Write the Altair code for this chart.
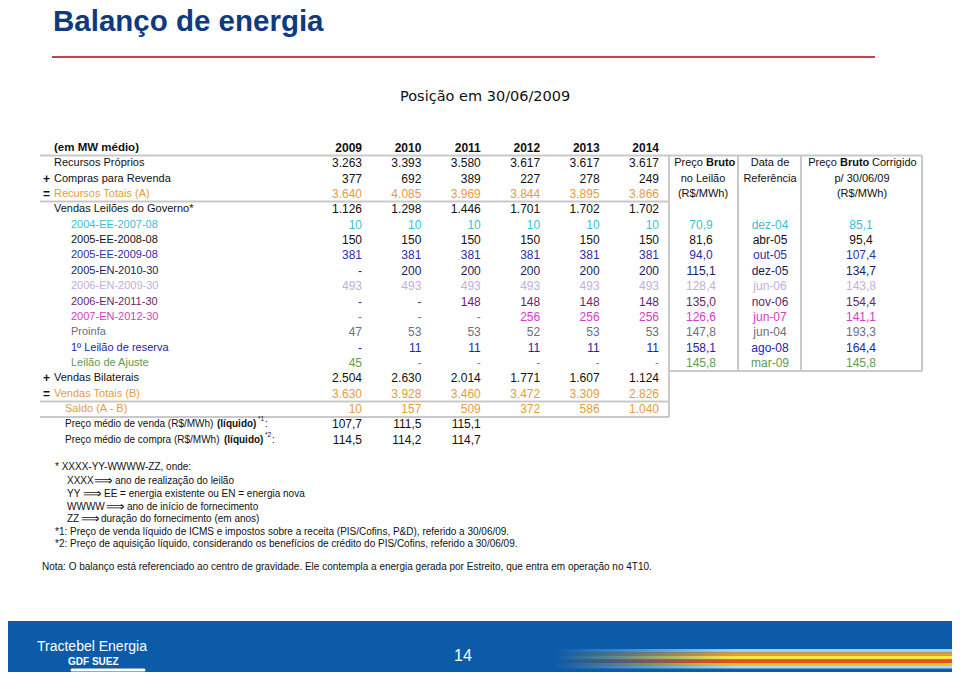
import altair as alt
import pandas as pd

# ---------------- data ----------------
title = "Balanço de energia"
subtitle = "Posição em 30/06/2009"
unit_label = "(em MW médio)"
years = ["2009", "2010", "2011", "2012", "2013", "2014"]

row_labels = [
    "Recursos Próprios", "Compras para Revenda", "Recursos Totais (A)",
    "Vendas Leilões do Governo*", "2004-EE-2007-08", "2005-EE-2008-08",
    "2005-EE-2009-08", "2005-EN-2010-30", "2006-EN-2009-30", "2006-EN-2011-30",
    "2007-EN-2012-30", "Proinfa", "1º Leilão de reserva", "Leilão de Ajuste",
    "Vendas Bilaterais", "Vendas Totais (B)", "Saldo (A - B)",
]
recursos_proprios = [3263, 3393, 3580, 3617, 3617, 3617]
compras_revenda = [377, 692, 389, 227, 278, 249]
recursos_totais = [3640, 4085, 3969, 3844, 3895, 3866]
vendas_leiloes = [1126, 1298, 1446, 1701, 1702, 1702]
l_2004_EE_2007_08 = [10, 10, 10, 10, 10, 10]
l_2005_EE_2008_08 = [150, 150, 150, 150, 150, 150]
l_2005_EE_2009_08 = [381, 381, 381, 381, 381, 381]
l_2005_EN_2010_30 = [None, 200, 200, 200, 200, 200]
l_2006_EN_2009_30 = [493, 493, 493, 493, 493, 493]
l_2006_EN_2011_30 = [None, None, 148, 148, 148, 148]
l_2007_EN_2012_30 = [None, None, None, 256, 256, 256]
proinfa = [47, 53, 53, 52, 53, 53]
leilao_reserva = [None, 11, 11, 11, 11, 11]
leilao_ajuste = [45, None, None, None, None, None]
vendas_bilaterais = [2504, 2630, 2014, 1771, 1607, 1124]
vendas_totais = [3630, 3928, 3460, 3472, 3309, 2826]
saldo = [10, 157, 509, 372, 586, 1040]

preco_venda_label = "Preço médio de venda (R$/MWh)"
preco_compra_label = "Preço médio de compra (R$/MWh)"
preco_venda = [107.7, 111.5, 115.1]
preco_compra = [114.5, 114.2, 114.7]

preco_bruto = [70.9, 81.6, 94.0, 115.1, 128.4, 135.0, 126.6, 147.8, 158.1, 145.8]
data_referencia = ["dez-04", "abr-05", "out-05", "dez-05", "jun-06", "nov-06",
                   "jun-07", "jun-04", "ago-08", "mar-09"]
preco_corrigido = [85.1, 95.4, 107.4, 134.7, 143.8, 154.4, 141.1, 193.3, 164.4, 145.8]

footnotes = [
    "*1: Preço de venda líquido de ICMS e impostos sobre a receita (PIS/Cofins, P&D), referido a 30/06/09.",
    "*2: Preço de aquisição líquido, considerando os benefícios de crédito do PIS/Cofins, referido a 30/06/09.",
]
legend_head = "* XXXX-YY-WWWW-ZZ, onde:"
legend_keys = ["XXXX", "YY", "WWWW", "ZZ"]
legend_texts = ["ano de realização do leilão", "EE = energia existente ou EN = energia nova",
                "ano de início de fornecimento", "duração do fornecimento (em anos)"]
nota = ("Nota: O balanço está referenciado ao centro de gravidade. Ele contempla a energia "
        "gerada por Estreito, que entra em operação no 4T10.")
page_number = "14"
logo_name = "Tractebel Energia"
logo_group = "GDF SUEZ"

# ---------------- styles / layout ----------------
SANS = "Liberation Sans"
W, H = 944, 664
X0, Y0 = 8, 8
XS = alt.Scale(domain=[X0, X0 + W], nice=False, zero=False)
YS = alt.Scale(domain=[Y0 + H, Y0], nice=False, zero=False)
ORANGE = "#E39D3E"
row_colors = ["#111111", "#111111", ORANGE, "#111111", "#3DBFD0", "#111111",
              "#2E2EA6", "#1C1C5C", "#C2AEE0", "#6A1E66", "#D43BC8", "#6E6E7E",
              "#2323A8", "#5E9C52", "#111111", ORANGE, ORANGE]
prefix = {1: "+", 2: "=", 14: "+", 15: "="}
indent = {i: 71 for i in range(4, 14)}
indent.update({16: 65})
ROW0, DROW = 148.0, 15.35
col_right = [362 + 59.4 * j for j in range(6)]


def row_y(i):
    return ROW0 + DROW * i


def fmt_int(v):
    if v is None:
        return "-"
    return f"{v:,}".replace(",", ".")


def fmt_dec(v):
    return f"{v:.1f}".replace(".", ",")


def enc(df, color=True):
    e = dict(x=alt.X("x:Q", scale=XS, axis=None),
             y=alt.Y("y:Q", scale=YS, axis=None),
             text=alt.Text("t:N"))
    if color:
        e["color"] = alt.Color("c:N", scale=None, legend=None)
    return e


def text_layer(rows, align="left", weight="normal", size=11, font=SANS, color=None,
               baseline="middle"):
    df = pd.DataFrame(rows, columns=["x", "y", "t", "c"] if color is None else ["x", "y", "t"])
    kw = dict(align=align, baseline=baseline, fontWeight=weight, fontSize=size, font=font)
    if color is not None:
        kw["color"] = color
    return alt.Chart(df).mark_text(**kw).encode(**enc(df, color is None))


def rule_layer(segs, color="#C9C9C9", width=2, cap="butt"):
    df = pd.DataFrame(segs, columns=["x", "x2", "y", "y2"])
    return alt.Chart(df).mark_rule(color=color, strokeWidth=width, strokeCap=cap).encode(
        x=alt.X("x:Q", scale=XS, axis=None), x2="x2:Q",
        y=alt.Y("y:Q", scale=YS, axis=None), y2="y2:Q")


def rect_layer(rects, fill, **kw):
    df = pd.DataFrame(rects, columns=["x", "x2", "y", "y2"])
    return alt.Chart(df).mark_rect(fill=fill, **kw).encode(
        x=alt.X("x:Q", scale=XS, axis=None), x2="x2:Q",
        y=alt.Y("y:Q", scale=YS, axis=None), y2="y2:Q")


layers = []

# title + red line + subtitle
layers.append(text_layer([(53, 31, title)], weight="bold", size=29.5, color="#0D3A80",
                         baseline="alphabetic"))
layers.append(rule_layer([(52, 875, 57, 57)], color="#C8404E", width=2))
layers.append(text_layer([(400, 97, subtitle)], size=14.5, font="DejaVu Sans", color="#111111"))

# table lines
layers.append(rule_layer([
    (40, 669, 155.5, 155.5), (40, 669, 201.5, 201.5), (40, 669, 401.5, 401.5),
    (40, 669, 417, 417), (669, 669, 155.5, 417),
    (669, 922, 371, 371), (922, 922, 155.5, 371), (669, 922, 155.5, 155.5),
    (738, 738, 155.5, 371), (801, 801, 155.5, 371),
]))

# header row
layers.append(text_layer([(54, row_y(0), unit_label)], weight="bold", size=11.5, color="#111111"))
layers.append(text_layer([(col_right[j], row_y(0), y) for j, y in enumerate(years)],
                         align="right", weight="bold", size=12, color="#111111"))

series = [recursos_proprios, compras_revenda, recursos_totais, vendas_leiloes,
          l_2004_EE_2007_08, l_2005_EE_2008_08, l_2005_EE_2009_08, l_2005_EN_2010_30,
          l_2006_EN_2009_30, l_2006_EN_2011_30, l_2007_EN_2012_30, proinfa,
          leilao_reserva, leilao_ajuste, vendas_bilaterais, vendas_totais, saldo]

label_rows, prefix_rows, num_rows = [], [], []
for i, (lab, vals) in enumerate(zip(row_labels, series)):
    r = i + 1
    c = row_colors[i]
    label_rows.append((indent.get(i, 54), row_y(r), lab, c))
    if i in prefix:
        prefix_rows.append((43, row_y(r), prefix[i], "#111111"))
    for j, v in enumerate(vals):
        num_rows.append((col_right[j], row_y(r), fmt_int(v), c))

layers.append(text_layer(label_rows, size=11))
layers.append(text_layer(prefix_rows, weight="bold", size=12))
layers.append(text_layer(num_rows, align="right", size=12))

# price rows
pr = []
for k, (lab, vals, sup, xb, xs, xc) in enumerate([
        (preco_venda_label, preco_venda, "*1", 217, 258, 265),
        (preco_compra_label, preco_compra, "*2", 224, 265, 272)]):
    y = row_y(18 + k)
    layers.append(text_layer([(65, y, lab)], size=10, color="#111111"))
    layers.append(text_layer([(xb, y, "(líquido)")], weight="bold", size=10, color="#111111"))
    layers.append(text_layer([(xs, y - 5, sup)], size=6.5, color="#111111"))
    layers.append(text_layer([(xc, y, ":")], size=10, color="#111111"))
    for j, v in enumerate(vals):
        pr.append((col_right[j], y, fmt_dec(v), "#111111"))
layers.append(text_layer(pr, align="right", size=12))

# right box header
hdr_plain = [(703, row_y(1), "Preço"), (837, row_y(1), "Preço")]
layers.append(text_layer(hdr_plain, align="right", size=11, color="#111111"))
layers.append(text_layer([(706, row_y(1), "Bruto"), (840, row_y(1), "Bruto")],
                         weight="bold", size=11, color="#111111"))
layers.append(text_layer([(872, row_y(1), "Corrigido")], size=11, color="#111111"))
layers.append(text_layer([
    (703, row_y(2), "no Leilão"), (703, row_y(3), "(R$/MWh)"),
    (770, row_y(1), "Data de"), (770, row_y(2), "Referência"),
    (862, row_y(2), "p/ 30/06/09"), (862, row_y(3), "(R$/MWh)"),
], align="center", size=11, color="#111111"))

box_rows = []
for k in range(len(preco_bruto)):
    r = 5 + k
    c = row_colors[4 + k]
    box_rows.append((701, row_y(r), fmt_dec(preco_bruto[k]), c))
    box_rows.append((770, row_y(r), data_referencia[k], c))
    box_rows.append((861, row_y(r), fmt_dec(preco_corrigido[k]), c))
layers.append(text_layer(box_rows, align="center", size=12))

# footnotes
FN = 10
fy = [467, 480.5, 493.5, 506.5, 519]
layers.append(text_layer([(55, fy[0], legend_head)], size=FN, color="#111111"))
key_x = [67, 67, 67, 67]
arrow_x = [94, 83, 106, 81]
txt_x = [115, 104, 127, 101]
layers.append(text_layer([(key_x[k], fy[k + 1], legend_keys[k]) for k in range(4)],
                         size=FN, color="#111111"))
layers.append(text_layer([(arrow_x[k], fy[k + 1], "⟹") for k in range(4)],
                         size=13, font="DejaVu Sans", color="#111111"))
layers.append(text_layer([(txt_x[k], fy[k + 1], legend_texts[k]) for k in range(4)],
                         size=FN, color="#111111"))
layers.append(text_layer([(55, 531.5, footnotes[0]), (55, 544, footnotes[1])],
                         size=FN, color="#111111"))
layers.append(text_layer([(42, 567, nota)], size=10, color="#111111"))

# footer
BLUE = "#0B5BA9"
layers.append(rect_layer([(2, 958, 621, 684)], BLUE))
bands = [(649, 652.5, "#9FD2F0"), (652.5, 656, "#F39A1E"), (656, 659.5, "#FFE94A"),
         (659.5, 663, "#E3521F"), (663, 666, "#F6C31A"), (666, 668.5, "#A9DCF4")]
for y1, y2, col in bands:
    grad = alt.LinearGradient(gradient="linear", x1=0, x2=1, y1=0, y2=0, stops=[
        alt.GradientStop(offset=0, color=BLUE),
        alt.GradientStop(offset=0.45, color=col),
        alt.GradientStop(offset=1, color=col)])
    layers.append(rect_layer([(553, 958, y1, y2)], grad))
layers.append(text_layer([(463, 656, page_number)], align="center", size=16,
                         font="Liberation Sans Narrow, Liberation Sans", color="#FFFFFF"))
layers.append(text_layer([(37, 647, logo_name)], size=14,
                         font="Liberation Sans Narrow, Liberation Sans", color="#FFFFFF"))
layers.append(text_layer([(68, 662, logo_group)], size=10, weight="bold", color="#FFFFFF"))
layers.append(rule_layer([(72, 144, 670, 670)], color="#FFFFFF", width=3, cap="round"))

chart = alt.layer(*layers).properties(
    width=W, height=H, padding=0,
    autosize=alt.AutoSizeParams(type="none"),
).configure_view(stroke=None)

chart.save("out.html", embed_options={"renderer": "svg", "actions": False})
